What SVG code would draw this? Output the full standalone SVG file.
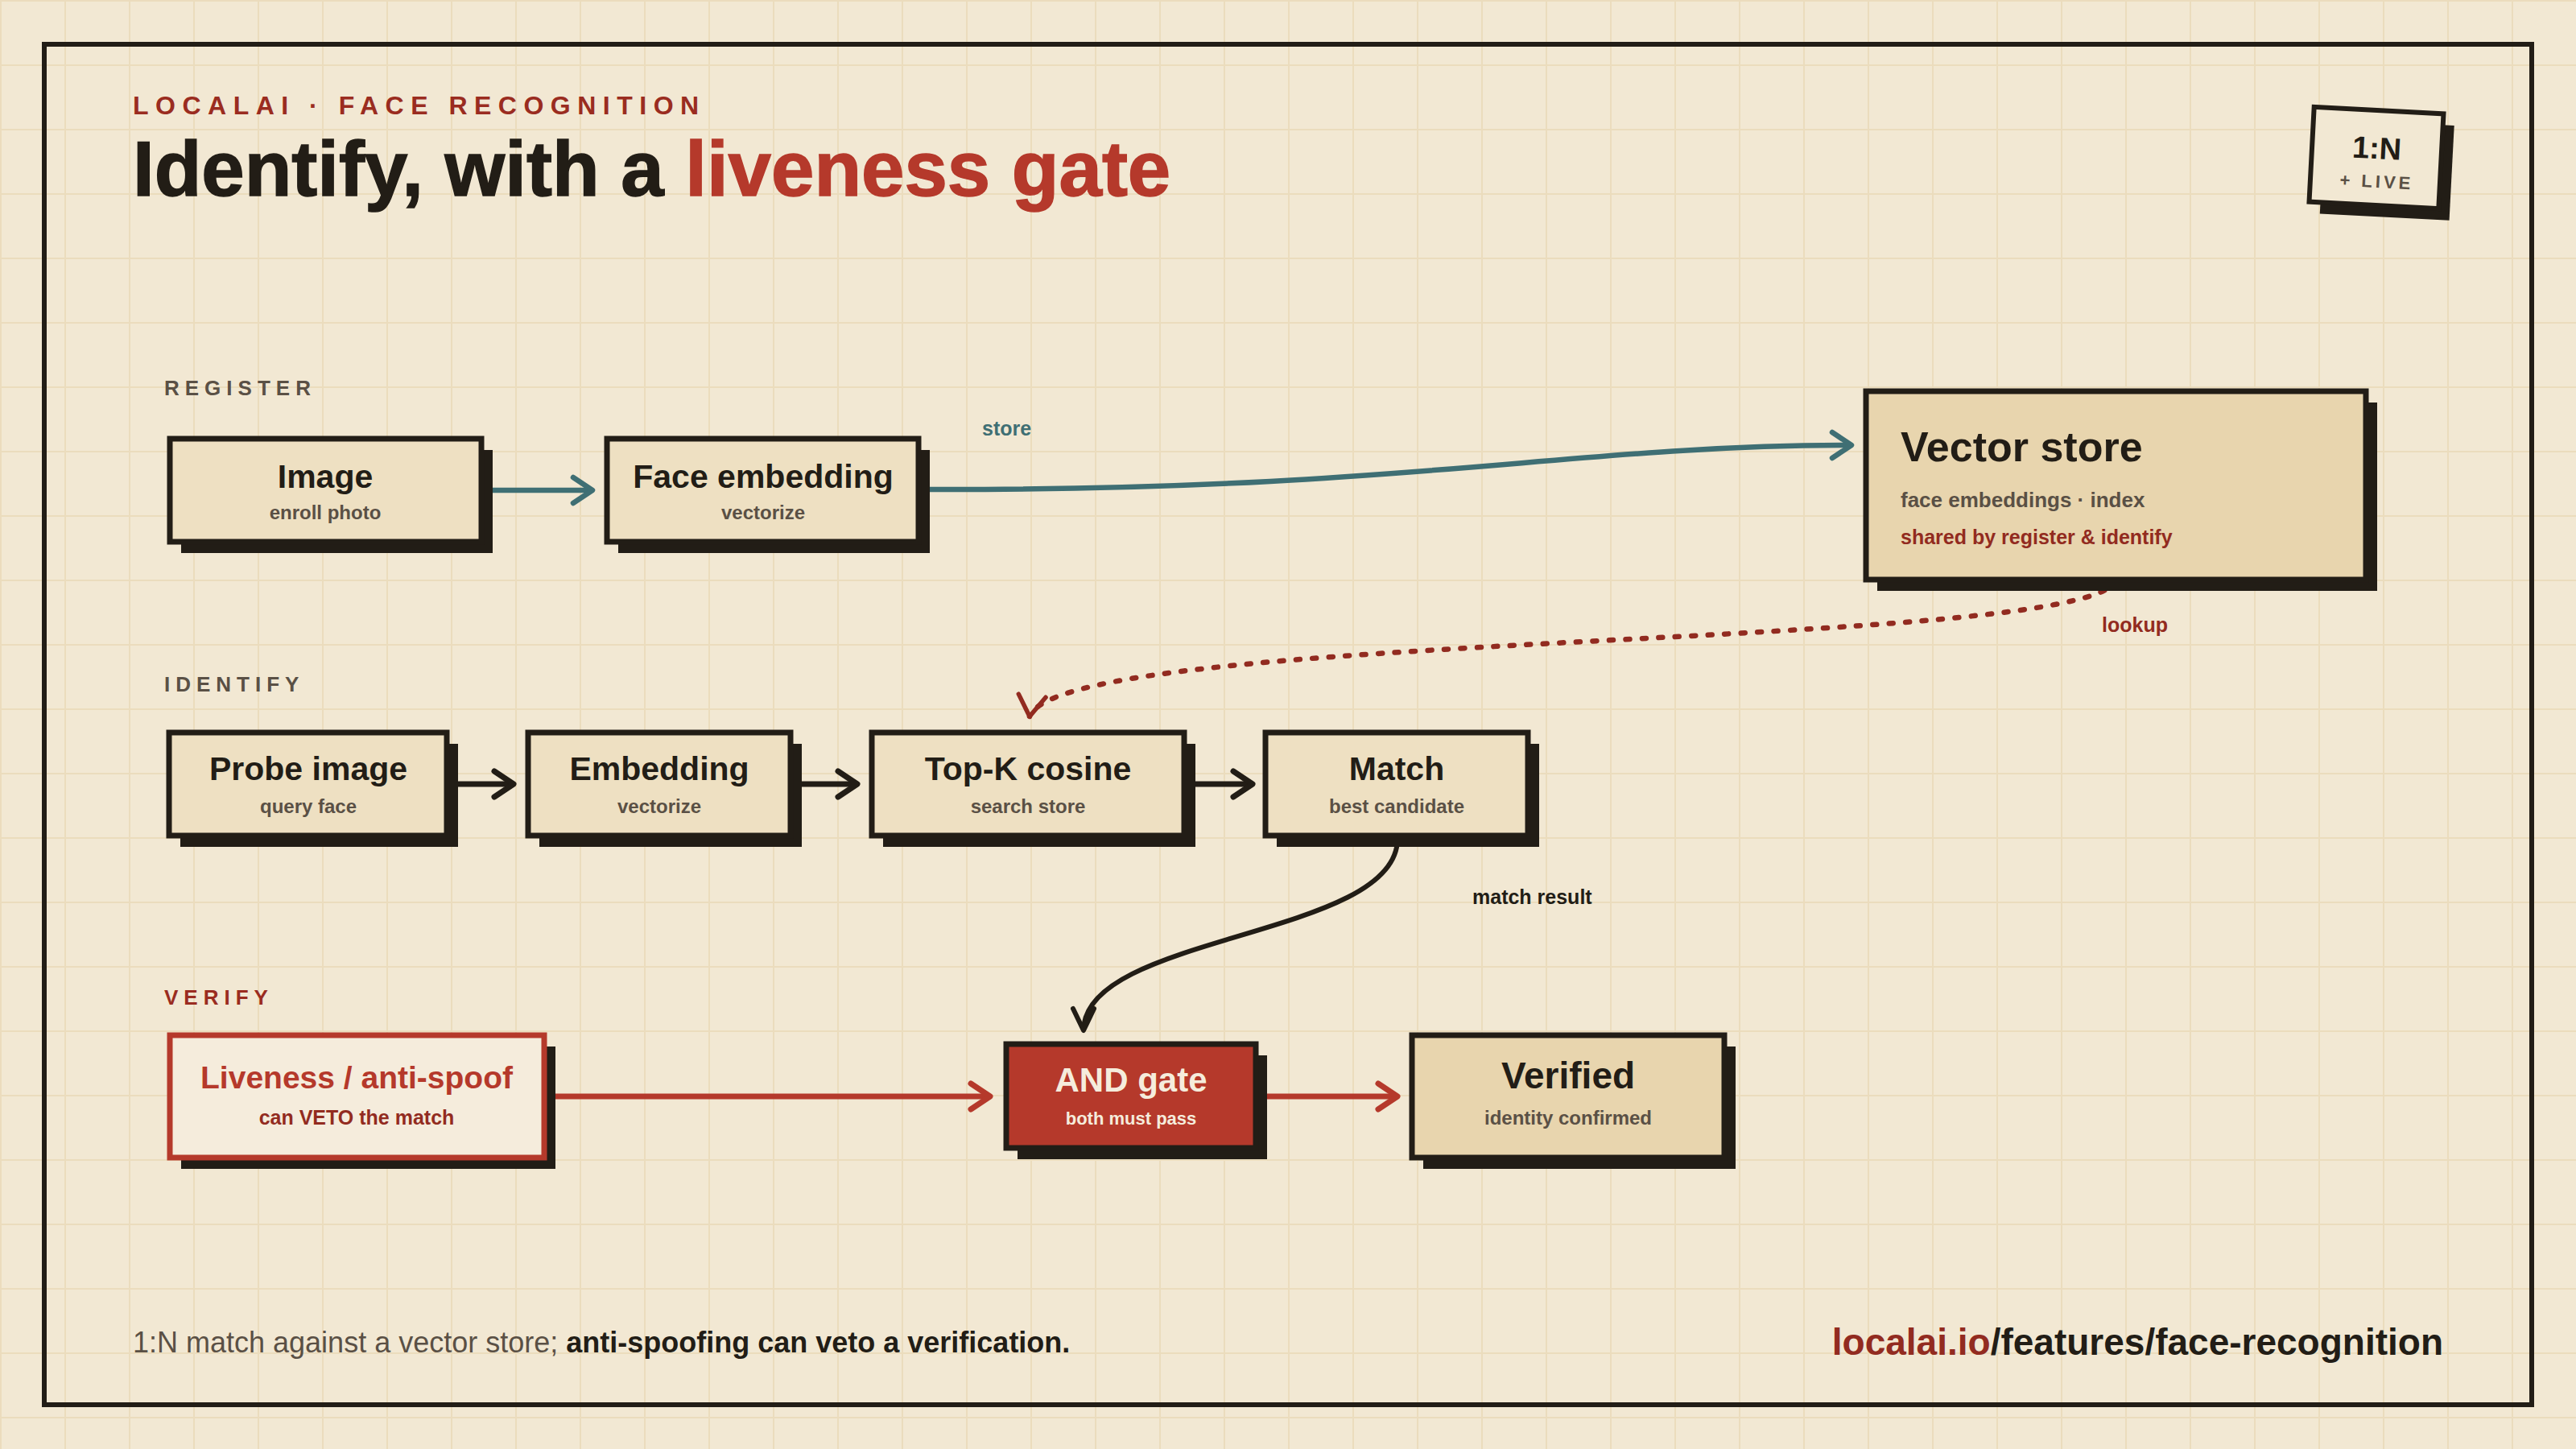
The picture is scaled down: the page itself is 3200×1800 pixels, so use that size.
<svg xmlns="http://www.w3.org/2000/svg" width="3200" height="1800" viewBox="0 0 3200 1800">
<defs>
<pattern id="grid" width="80" height="80" patternUnits="userSpaceOnUse">
<path d="M0 0H80M0 0V80" stroke="#ebdcbd" stroke-width="4" fill="none"/>
</pattern>
<marker id="ahTeal" markerUnits="userSpaceOnUse" viewBox="-32 -24 40 48" markerWidth="40" markerHeight="48" refX="0" refY="0" orient="auto">
<path d="M-24 -16 L0 0 L-24 16" fill="none" stroke="#3f6f74" stroke-width="6.5" stroke-linecap="round" stroke-linejoin="round"/>
</marker>
<marker id="ahDark" markerUnits="userSpaceOnUse" viewBox="-32 -24 40 48" markerWidth="40" markerHeight="48" refX="0" refY="0" orient="auto">
<path d="M-24 -16 L0 0 L-24 16" fill="none" stroke="#221d16" stroke-width="7" stroke-linecap="round" stroke-linejoin="round"/>
</marker>
<marker id="ahDarkCurve" markerUnits="userSpaceOnUse" viewBox="-32 -24 40 48" markerWidth="40" markerHeight="48" refX="0" refY="0" orient="auto">
<path d="M-27 -13 L0 0 L-27 13" fill="none" stroke="#221d16" stroke-width="6" stroke-linecap="round" stroke-linejoin="round"/>
</marker>
<marker id="ahRed" markerUnits="userSpaceOnUse" viewBox="-32 -24 40 48" markerWidth="40" markerHeight="48" refX="0" refY="0" orient="auto">
<path d="M-24 -16 L0 0 L-24 16" fill="none" stroke="#b5392b" stroke-width="7" stroke-linecap="round" stroke-linejoin="round"/>
</marker>
<marker id="ahRedDot" markerUnits="userSpaceOnUse" viewBox="-32 -24 40 48" markerWidth="40" markerHeight="48" refX="0" refY="0" orient="97">
<path d="M-26 -17 L0 0 L-26 17" fill="none" stroke="#922b20" stroke-width="5.5" stroke-linecap="round" stroke-linejoin="round"/>
</marker>
</defs>
<style>
text{font-family:"Liberation Sans",Arial,sans-serif;}
.kicker{font-size:32px;font-weight:700;fill:#9a2c20;letter-spacing:8.5px;}
.title{font-size:96px;font-weight:700;fill:#221d16;stroke:#221d16;stroke-width:1.5px;}
.sec{font-size:26px;font-weight:700;fill:#5a5045;letter-spacing:7px;}
.nt{font-size:41px;font-weight:700;fill:#221d16;text-anchor:middle;}
.ns{font-size:24px;font-weight:700;fill:#5a5045;text-anchor:middle;}
.lbl{font-size:25px;font-weight:700;}
.box{fill:#eee0c2;stroke:#221d16;stroke-width:7;}
.tan{fill:#e8d5ae;}
.shadow{fill:#221d16;}
.conn{fill:none;}
</style>
<rect width="3200" height="1800" fill="#f2e8d3"/>
<rect width="3200" height="1800" fill="url(#grid)"/>
<rect x="55" y="55" width="3090" height="1690" fill="none" stroke="#221d16" stroke-width="6"/>

<text x="165" y="142" class="kicker">LOCALAI · FACE RECOGNITION</text>
<text x="165" y="243" class="title">Identify, with a <tspan fill="#b5392b" stroke="#b5392b">liveness gate</tspan></text>

<g id="badge" transform="translate(2952,196) rotate(3)">
<rect x="-66.5" y="-45" width="161" height="118" class="shadow"/>
<rect x="-80.5" y="-59" width="161" height="118" fill="#f2e8d3" stroke="#221d16" stroke-width="6"/>
<text x="0" y="1" text-anchor="middle" font-size="38" font-weight="700" fill="#221d16">1:N</text>
<text x="2" y="37" text-anchor="middle" font-size="22" font-weight="700" fill="#5a5045" letter-spacing="4">+ LIVE</text>
</g>

<text x="204" y="491" class="sec">REGISTER</text>
<text x="204" y="859" class="sec">IDENTIFY</text>
<text x="204" y="1248" class="sec" style="fill:#9a2c20">VERIFY</text>

<g id="connectors">
<path class="conn" d="M601 609 L736 609" stroke="#3f6f74" stroke-width="6.5" marker-end="url(#ahTeal)"/>
<path class="conn" d="M1145 608 C1750 610 1950 553 2300 553" stroke="#3f6f74" stroke-width="6.5" marker-end="url(#ahTeal)"/>
<text x="1220" y="541" class="lbl" fill="#3f6f74">store</text>
<path class="conn" d="M2629 720 C2600 810 1320 780 1279 890" stroke="#922b20" stroke-width="6.5" stroke-dasharray="5 15.5" stroke-linecap="round" marker-end="url(#ahRedDot)"/>
<text x="2611" y="785" class="lbl" fill="#922b20">lookup</text>
<path class="conn" d="M559 974 L638 974" stroke="#221d16" stroke-width="7" marker-end="url(#ahDark)"/>
<path class="conn" d="M986 974 L1065 974" stroke="#221d16" stroke-width="7" marker-end="url(#ahDark)"/>
<path class="conn" d="M1475 974 L1556 974" stroke="#221d16" stroke-width="7" marker-end="url(#ahDark)"/>
<path class="conn" d="M1736 1042 C1736 1165 1346 1160 1346 1280" stroke="#221d16" stroke-width="6" marker-end="url(#ahDarkCurve)"/>
<text x="1829" y="1123" class="lbl" fill="#221d16">match result</text>
<path class="conn" d="M679 1362 L1230 1362" stroke="#b5392b" stroke-width="7" marker-end="url(#ahRed)"/>
<path class="conn" d="M1564 1362 L1736 1362" stroke="#b5392b" stroke-width="7" marker-end="url(#ahRed)"/>
</g>

<g id="node-image">
<rect x="225" y="559" width="387" height="128" class="shadow"/>
<rect x="211" y="545" width="387" height="128" class="box"/>
<text x="404" y="606" class="nt">Image</text>
<text x="404" y="645" class="ns">enroll photo</text>
</g>
<g id="node-face-embedding">
<rect x="768" y="559" width="387" height="128" class="shadow"/>
<rect x="754" y="545" width="387" height="128" class="box"/>
<text x="948" y="606" class="nt">Face embedding</text>
<text x="948" y="645" class="ns">vectorize</text>
</g>
<g id="node-vector-store">
<rect x="2332" y="500" width="621" height="234" class="shadow"/>
<rect x="2318" y="486" width="621" height="234" class="box tan"/>
<text x="2361" y="573" font-size="52" font-weight="700" fill="#221d16">Vector store</text>
<text x="2361" y="630" font-size="26" font-weight="700" fill="#5a5045">face embeddings · index</text>
<text x="2361" y="676" font-size="25" font-weight="700" fill="#922b20">shared by register &amp; identify</text>
</g>

<g id="node-probe-image">
<rect x="224" y="924" width="345" height="128" class="shadow"/>
<rect x="210" y="910" width="345" height="128" class="box"/>
<text x="383" y="969" class="nt">Probe image</text>
<text x="383" y="1010" class="ns">query face</text>
</g>
<g id="node-embedding">
<rect x="670" y="924" width="326" height="128" class="shadow"/>
<rect x="656" y="910" width="326" height="128" class="box"/>
<text x="819" y="969" class="nt">Embedding</text>
<text x="819" y="1010" class="ns">vectorize</text>
</g>
<g id="node-topk">
<rect x="1097" y="924" width="388" height="128" class="shadow"/>
<rect x="1083" y="910" width="388" height="128" class="box"/>
<text x="1277" y="969" class="nt">Top-K cosine</text>
<text x="1277" y="1010" class="ns">search store</text>
</g>
<g id="node-match">
<rect x="1586" y="924" width="326" height="128" class="shadow"/>
<rect x="1572" y="910" width="326" height="128" class="box"/>
<text x="1735" y="969" class="nt">Match</text>
<text x="1735" y="1010" class="ns">best candidate</text>
</g>

<g id="node-liveness">
<rect x="225" y="1300" width="465" height="152" class="shadow"/>
<rect x="211" y="1286" width="465" height="152" fill="#f5ecdc" stroke="#b5392b" stroke-width="7"/>
<text x="443" y="1352" class="nt" style="fill:#b5392b;font-size:39px">Liveness / anti-spoof</text>
<text x="443" y="1397" class="ns" style="fill:#922b20;font-size:25px">can VETO the match</text>
</g>
<g id="node-and-gate">
<rect x="1264" y="1311" width="310" height="129" class="shadow"/>
<rect x="1250" y="1297" width="310" height="129" fill="#b5392b" stroke="#221d16" stroke-width="7"/>
<text x="1405" y="1356" class="nt" style="fill:#f5ecdc;font-size:42px">AND gate</text>
<text x="1405" y="1397" class="ns" style="fill:#f5ecdc;font-size:22px">both must pass</text>
</g>
<g id="node-verified">
<rect x="1768" y="1300" width="388" height="152" class="shadow"/>
<rect x="1754" y="1286" width="388" height="152" class="box tan"/>
<text x="1948" y="1352" class="nt" style="font-size:46px">Verified</text>
<text x="1948" y="1397" class="ns">identity confirmed</text>
</g>

<text x="165" y="1680" font-size="36" fill="#5a5045">1:N match against a vector store; <tspan font-weight="700" fill="#221d16">anti-spoofing can veto a verification.</tspan></text>
<text x="3035" y="1683" font-size="46" font-weight="700" fill="#221d16" text-anchor="end"><tspan fill="#922b20">localai.io</tspan>/features/face-recognition</text>
</svg>
